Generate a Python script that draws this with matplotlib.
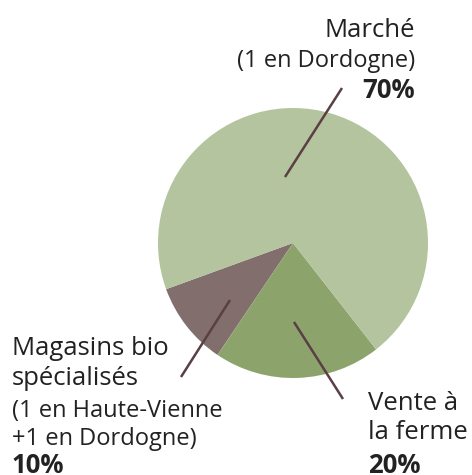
import matplotlib.pyplot as plt

# Données
labels = ["Magasins bio spécialisés", "Vente à la ferme", "Marché"]
parts = [10, 20, 70]
colors = ["#836e6e", "#8ca46c", "#b3c49e"]

W, H = 472, 475
fig = plt.figure(figsize=(W / 100, H / 100), dpi=100)
ax = fig.add_axes([0, 0, 1, 1])

ax.pie(parts, colors=colors, startangle=-160, counterclock=True,
       center=(293, H - 243), radius=135, frame=True,
       wedgeprops=dict(linewidth=0))
ax.set_xlim(0, W)
ax.set_ylim(0, H)
ax.set_aspect("equal")
ax.axis("off")

line_col = "#5a3f45"
# traits de rappel (coordonnées en pixels, y depuis le haut)
for (x0, y0), (x1, y1) in [((285, 177), (342, 88)),
                           ((230, 300), (181, 377)),
                           ((294, 322), (343, 399))]:
    ax.plot([x0, x1], [H - y0, H - y1], color=line_col, lw=1.8,
            solid_capstyle="butt")

txt = "#222222"
font = "Open Sans"
big, small = 18.5, 17

# Marché
ax.text(415, H - 37, "Marché", ha="right", va="baseline", fontsize=big,
        color=txt, family=font)
ax.text(415, H - 67, "(1 en Dordogne)", ha="right", va="baseline",
        fontsize=small, color=txt, family=font)
ax.text(415, H - 98, "70%", ha="right", va="baseline", fontsize=big,
        fontweight="bold", color=txt, family=font)

# Magasins bio
ax.text(12, H - 355, "Magasins bio", ha="left", va="baseline", fontsize=big,
        color=txt, family=font)
ax.text(12, H - 385, "spécialisés", ha="left", va="baseline", fontsize=big,
        color=txt, family=font)
ax.text(12, H - 417, "(1 en Haute-Vienne", ha="left", va="baseline",
        fontsize=small, color=txt, family=font)
ax.text(12, H - 445, "+1 en Dordogne)", ha="left", va="baseline",
        fontsize=small, color=txt, family=font)
ax.text(12, H - 473, "10%", ha="left", va="baseline", fontsize=big,
        fontweight="bold", color=txt, family=font)

# Vente à la ferme
ax.text(368, H - 410, "Vente à", ha="left", va="baseline", fontsize=big,
        color=txt, family=font)
ax.text(368, H - 439, "la ferme", ha="left", va="baseline", fontsize=big,
        color=txt, family=font)
ax.text(368, H - 473, "20%", ha="left", va="baseline", fontsize=big,
        fontweight="bold", color=txt, family=font)

fig.savefig("out.png", dpi=100)
